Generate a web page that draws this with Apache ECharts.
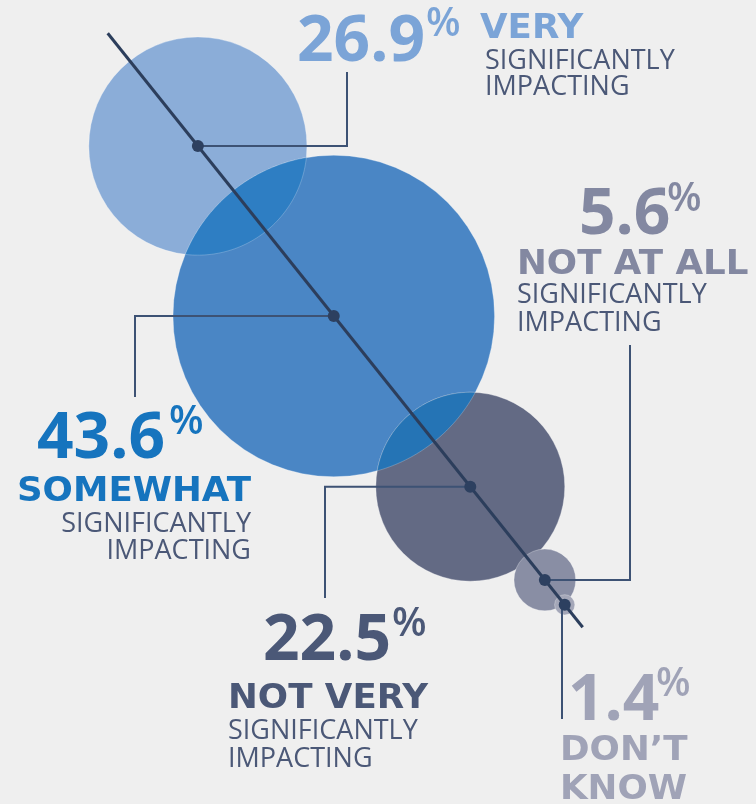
<!DOCTYPE html>
<html>
<head>
<meta charset="utf-8">
<script src="https://cdn.jsdelivr.net/npm/echarts@6/dist/echarts.min.js"></script>
<style>
  html, body { margin: 0; padding: 0; background: #efefef; }
  #chart { width: 756px; height: 804px; }
</style>
</head>
<body>
<div id="chart"></div>
<script>
// Survey answers, in the order the bubbles run down the diagonal
const categories = ['VERY', 'SOMEWHAT', 'NOT VERY', 'NOT AT ALL', 'DON’T KNOW'];
const shares = [26.9, 43.6, 22.5, 5.6, 1.4];
const subLines = ['SIGNIFICANTLY', 'IMPACTING'];

// ---- layout -------------------------------------------------------------
// The grid is stretched so that a point [d, d] sits on the diagonal, d pixels
// from its upper-left end.
const LEN = 760.6;
const along = [144.4, 362, 580.6, 700, 731.8];
const radius = v => 7.73 * Math.pow(v, 0.804);

const bubbleFill = ['#8badd8', '#4a86c5', '#636a84', '#898ea4', '#a4a7b8'];
const lensPairs = [[0, 1], [1, 2]];
const lensFill = ['#2e7ec3', '#2574b5'];
const tone = ['#7ba4d7', '#1674be', '#4b5877', '#8388a1', '#a0a3b7'];
const ink = '#4b5877';
const lineInk = '#2c3e5c';
const leaderInk = '#3d5274';

// elbow x and end y of each leader line
const leaders = [
  { x: 347, y: 72 },
  { x: 135, y: 397 },
  { x: 325, y: 598 },
  { x: 630, y: 345 },
  { x: 562, y: 719 }
];

// label blocks: number, superscript %, heading line(s), sub lines
const blocks = [
  { num: [297, 43], pct: [426, 25], head: [[480, 29]], sub: [[485, 61], [485, 87]], align: 'left' },
  { num: [37, 440], pct: [169, 423], head: [[251, 492]], sub: [[251, 524], [251, 551]], align: 'right' },
  { num: [263, 642], pct: [392, 625], head: [[228, 699]], sub: [[228, 731], [228, 759]], align: 'left' },
  { num: [579, 216], pct: [667, 200], head: [[517, 265]], sub: [[517, 295], [517, 323]], align: 'left' },
  { num: [568, 702], pct: [656, 685], head: [[560, 751], [560, 790]], sub: [], align: 'left' }
];

const FONT_NUM = 'bold 64px "Open Sans"';
const FONT_PCT = '600 40px "Open Sans"';
const FONT_HEAD = 'bold 33px "DejaVu Sans"';
const FONT_SUB = '27px "Open Sans"';
const HEAD_STRETCH = 1.08;

const texts = [];
blocks.forEach((b, g) => {
  texts.push({ type: 'text', x: b.num[0], y: b.num[1], z: 10,
    style: { text: shares[g].toFixed(1), font: FONT_NUM, fill: tone[g], align: 'left', verticalAlign: 'middle' } });
  texts.push({ type: 'text', x: b.pct[0], y: b.pct[1], z: 10,
    style: { text: '%', font: FONT_PCT, fill: tone[g], align: 'left', verticalAlign: 'middle' } });
  const headWords = b.head.length > 1 ? categories[g].split(' ') : [categories[g]];
  b.head.forEach((p, k) => {
    texts.push({ type: 'text', x: p[0], y: p[1], z: 10, scaleX: HEAD_STRETCH,
      style: { text: headWords[k], font: FONT_HEAD, fill: tone[g], align: b.align, verticalAlign: 'middle' } });
  });
  b.sub.forEach((p, k) => {
    texts.push({ type: 'text', x: p[0], y: p[1], z: 10,
      style: { text: subLines[k], font: FONT_SUB, fill: ink, align: b.align, verticalAlign: 'middle' } });
  });
});

const centres = along.map(d => [d, d]);

const chart = echarts.init(document.getElementById('chart'), null, { renderer: 'canvas' });
chart.setOption({
  backgroundColor: '#efefef',
  animation: false,
  grid: { left: 107.7, top: 33.3, width: 475, height: 594, containLabel: false },
  xAxis: { type: 'value', min: 0, max: LEN, show: false },
  yAxis: { type: 'value', min: 0, max: LEN, inverse: true, show: false },
  series: [
    {
      // bubbles sized by share
      type: 'scatter',
      z: 1,
      clip: false,
      symbol: 'circle',
      data: along.map((d, i) => ({ value: [d, d, shares[i]], itemStyle: { color: bubbleFill[i] } })),
      symbolSize: v => 2 * radius(v[2]),
      itemStyle: { opacity: 1, borderColor: 'rgba(255,255,255,0.3)', borderWidth: 1 },
      emphasis: { disabled: true }
    },
    {
      // overlap of neighbouring bubbles
      type: 'custom',
      z: 2,
      coordinateSystem: 'cartesian2d',
      data: lensPairs.map(p => [along[p[0]], along[p[0]]]),
      renderItem: (params, api) => {
        const [i, j] = lensPairs[params.dataIndex];
        const A = api.coord(centres[i]);
        const B = api.coord(centres[j]);
        const rA = radius(shares[i]);
        const rB = radius(shares[j]);
        const dx = B[0] - A[0], dy = B[1] - A[1];
        const d = Math.hypot(dx, dy);
        const alpha = Math.acos((d * d + rA * rA - rB * rB) / (2 * d * rA));
        const beta = Math.acos((d * d + rB * rB - rA * rA) / (2 * d * rB));
        const tAB = Math.atan2(dy, dx);
        const tBA = tAB + Math.PI;
        const pts = [];
        const N = 72;
        for (let k = 0; k <= N; k++) {
          const t = tAB - alpha + 2 * alpha * k / N;
          pts.push([A[0] + rA * Math.cos(t), A[1] + rA * Math.sin(t)]);
        }
        for (let k = 0; k <= N; k++) {
          const t = tBA - beta + 2 * beta * k / N;
          pts.push([B[0] + rB * Math.cos(t), B[1] + rB * Math.sin(t)]);
        }
        return {
          type: 'polygon',
          shape: { points: pts },
          style: { fill: lensFill[params.dataIndex], stroke: 'rgba(255,255,255,0.22)', lineWidth: 1 }
        };
      }
    },
    {
      // the diagonal
      type: 'line',
      z: 3,
      clip: false,
      symbol: 'none',
      data: [[0, 0], [LEN, LEN]],
      lineStyle: { color: lineInk, width: 3 },
      emphasis: { disabled: true }
    },
    {
      // leader lines from each centre to its label
      type: 'custom',
      z: 3,
      coordinateSystem: 'cartesian2d',
      data: centres,
      renderItem: (params, api) => {
        const i = params.dataIndex;
        const c = api.coord(centres[i]);
        const L = leaders[i];
        return {
          type: 'polyline',
          shape: { points: [c, [L.x, c[1]], [L.x, L.y]] },
          style: { stroke: leaderInk, lineWidth: 2, fill: null }
        };
      }
    },
    {
      // centre dots
      type: 'scatter',
      z: 4,
      clip: false,
      symbol: 'circle',
      symbolSize: 12,
      data: centres,
      itemStyle: { color: '#2d4060', opacity: 1 },
      emphasis: { disabled: true }
    }
  ],
  graphic: { elements: texts }
});
</script>
</body>
</html>
